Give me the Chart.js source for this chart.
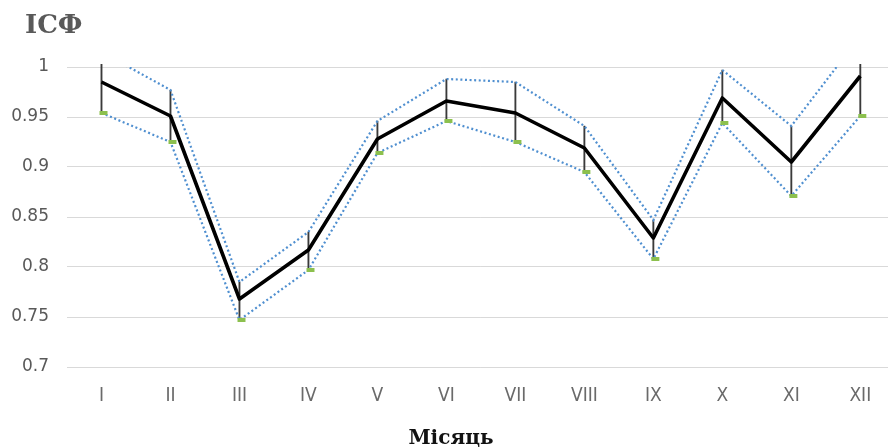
<!DOCTYPE html>
<html lang="uk">
<head>
<meta charset="utf-8">
<title>ІСФ по місяцях</title>
<script src="https://cdn.jsdelivr.net/npm/chart.js@4.4.1/dist/chart.umd.min.js"></script>
<style>
  html, body { margin: 0; padding: 0; background: #fff; overflow: hidden; }
  #wrap { position: relative; width: 888px; height: 448px; overflow: hidden; }
  #c { position: absolute; left: 0; top: 0; }
  .lbl { position: absolute; white-space: nowrap; }
  #title { left: 25px; top: 9px; font: bold 26px "DejaVu Serif", serif; color: #595959; line-height: 30px; }
  #xtitle { left: 451px; top: 426px; transform: translateX(-50%); font: bold 20px "DejaVu Serif", serif; color: #111; line-height: 22px; }
</style>
</head>
<body>
<div id="wrap">
  <canvas id="c" width="901" height="448"></canvas>
  <div class="lbl" id="title">ІСФ</div>
  <div class="lbl" id="xtitle">Місяць</div>
</div>
<script>
// Months in Roman numerals
const months = ['I', 'II', 'III', 'IV', 'V', 'VI', 'VII', 'VIII', 'IX', 'X', 'XI', 'XII'];
// Mean monthly index
const meanValues  = [0.985, 0.951, 0.768, 0.817, 0.928, 0.966, 0.954, 0.919, 0.829, 0.969, 0.905, 0.991];
// Upper bound of the interval
const upperValues = [1.015, 0.977, 0.785, 0.835, 0.946, 0.988, 0.985, 0.941, 0.847, 0.997, 0.941, 1.031];
// Lower bound of the interval
const lowerValues = [0.954, 0.925, 0.747, 0.797, 0.914, 0.946, 0.925, 0.895, 0.808, 0.944, 0.871, 0.951];
// Value-axis ticks
const yTicks = [0.7, 0.75, 0.8, 0.85, 0.9, 0.95, 1];

// Small green dash used as the marker of the lower bound
const lowMarker = document.createElement('canvas');
lowMarker.width = 16; lowMarker.height = 4;
(function () {
  const g = lowMarker.getContext('2d');
  g.fillStyle = '#8cc04e';
  g.fillRect(6, 0, 8, 4);
})();

const ranges = lowerValues.map((lo, i) => [lo, upperValues[i]]);

new Chart(document.getElementById('c'), {
  type: 'line',
  data: {
    labels: months,
    datasets: [
      {
        label: 'Середнє',
        data: meanValues,
        borderColor: '#000',
        borderWidth: 3.6,
        pointRadius: 0,
        borderJoinStyle: 'round',
        tension: 0,
        order: 0
      },
      {
        label: 'Верхня межа',
        data: upperValues,
        borderColor: '#4f8fd0',
        borderWidth: 2.2,
        borderDash: [2, 2.6],
        pointRadius: 0,
        tension: 0,
        order: 1
      },
      {
        label: 'Нижня межа',
        data: lowerValues,
        borderColor: '#4f8fd0',
        borderWidth: 2.2,
        borderDash: [2, 2.6],
        pointStyle: lowMarker,
        pointRadius: 4,
        tension: 0,
        order: 1
      },
      {
        type: 'bar',
        label: 'Інтервал',
        data: ranges,
        backgroundColor: '#3a3a3a',
        barThickness: 1.2,
        clip: { left: 5, top: 3, right: 5, bottom: 5 },
        order: 2
      }
    ]
  },
  options: {
    responsive: false,
    animation: false,
    layout: { padding: { left: 0, right: 0, top: 67, bottom: 0 } },
    plugins: {
      legend: { display: false },
      tooltip: { enabled: false },
      title: { display: false }
    },
    scales: {
      x: {
        offset: true,
        grid: { display: false, drawTicks: false },
        border: { display: false },
        ticks: {
          color: '#6a6a6a',
          padding: 18,
          font: { family: '"DejaVu Sans Condensed", "DejaVu Sans", sans-serif', size: 19 }
        },
        afterFit: (s) => { s.height = 81; }
      },
      y: {
        min: 0.7,
        max: 1,
        grid: { color: '#d9d9d9', lineWidth: 1, drawTicks: false },
        border: { display: false },
        afterBuildTicks: (s) => { s.ticks = yTicks.map(v => ({ value: v })); },
        ticks: {
          color: '#595959',
          padding: 18,
          font: { family: '"DejaVu Sans", sans-serif', size: 17 },
          callback: (v) => String(Math.round(v * 100) / 100)
        },
        afterFit: (s) => { s.width = 67; }
      }
    }
  }
});
</script>
</body>
</html>
